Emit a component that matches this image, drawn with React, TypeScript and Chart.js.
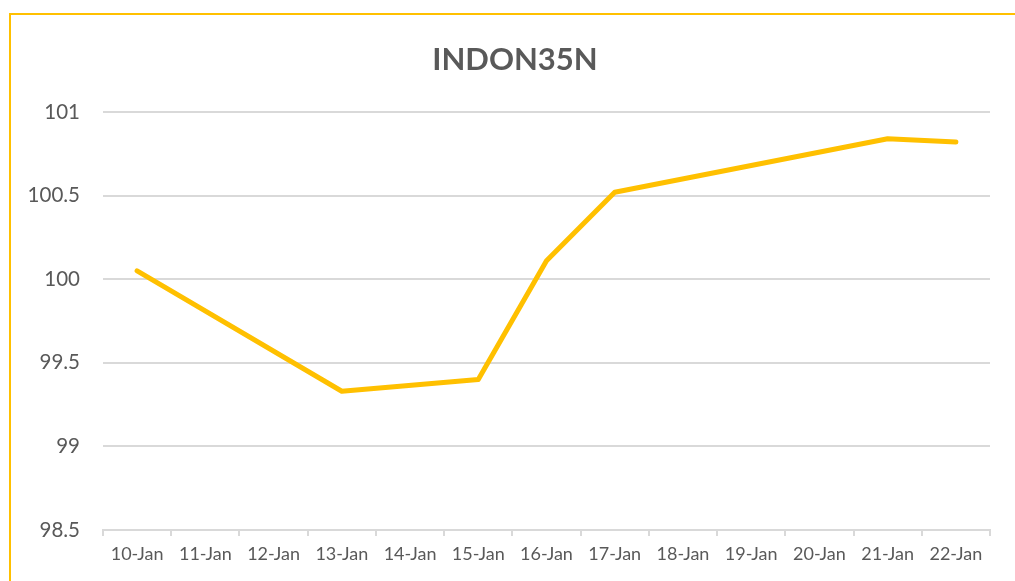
import React, { useEffect, useRef } from "react";
import { Chart, registerables } from "chart.js";

Chart.register(...registerables);

const categories = ["10-Jan", "11-Jan", "12-Jan", "13-Jan", "14-Jan", "15-Jan", "16-Jan", "17-Jan", "18-Jan", "19-Jan", "20-Jan", "21-Jan", "22-Jan"];
const prices: (number | null)[] = [100.05, null, null, 99.33, null, 99.40, 100.11, 100.52, null, null, null, 100.84, 100.82];
const yTicks = [98.5, 99, 99.5, 100, 100.5, 101];
const titleText = "INDON35N";

const FONT = "Lato, 'Open Sans', sans-serif";

const centeredTitle = {
  id: "centeredTitle",
  afterDraw(chart: any) {
    const ctx = chart.ctx;
    ctx.save();
    ctx.font = `bold 31px ${FONT}`;
    ctx.fillStyle = "#595959";
    ctx.textAlign = "center";
    ctx.textBaseline = "middle";
    ctx.fillText(titleText, chart.width / 2, 45);
    ctx.restore();
  },
};

export default function App() {
  const ref = useRef<HTMLCanvasElement>(null);
  useEffect(() => {
    if (!ref.current) return;
    const chart = new Chart(ref.current, {
      type: "line",
      data: {
        labels: categories,
        datasets: [
          {
            data: prices,
            borderColor: "#FFC000",
            borderWidth: 5,
            borderCapStyle: "round",
            borderJoinStyle: "round",
            pointRadius: 0,
            spanGaps: true,
            tension: 0,
          },
        ],
      },
      plugins: [centeredTitle],
      options: {
        animation: false,
        responsive: false,
        maintainAspectRatio: false,
        layout: { padding: { left: 0, right: 28, top: 97, bottom: 0 } },
        plugins: {
          legend: { display: false },
          tooltip: { enabled: false },
          title: { display: false },
        },
        scales: {
          x: {
            offset: true,
            grid: {
              offset: true,
              drawOnChartArea: false,
              drawTicks: true,
              tickLength: 6,
              color: "#d9d9d9",
              lineWidth: 2,
            },
            border: { color: "#d9d9d9", width: 2 },
            ticks: {
              color: "#595959",
              font: { family: FONT, size: 18 },
              padding: 7,
              maxRotation: 0,
              autoSkip: false,
            },
            afterFit: (s: any) => {
              s.height = 51;
            },
          },
          y: {
            min: 98.5,
            max: 101,
            afterBuildTicks: (s: any) => {
              s.ticks = yTicks.map((v) => ({ value: v }));
            },
            grid: { color: "#d9d9d9", lineWidth: 2, drawTicks: false },
            border: { display: false },
            ticks: {
              color: "#595959",
              font: { family: FONT, size: 20.5 },
              padding: 23,
              callback: (v: any) => String(v),
            },
            afterFit: (s: any) => {
              s.width = 91;
            },
          },
        },
      },
    });
    return () => chart.destroy();
  }, []);

  return (
    <div style={{ position: "fixed", left: 0, top: 0, width: 1015, height: 581, overflow: "hidden", background: "#fff" }}>
      <div
        style={{
          position: "absolute",
          left: 9,
          top: 13,
          width: 1030,
          height: 620,
          border: "2px solid #FFC000",
          boxSizing: "border-box",
        }}
      />
      <canvas ref={ref} width={1006} height={566} style={{ position: "absolute", left: 12, top: 15, display: "block" }} />
    </div>
  );
}
